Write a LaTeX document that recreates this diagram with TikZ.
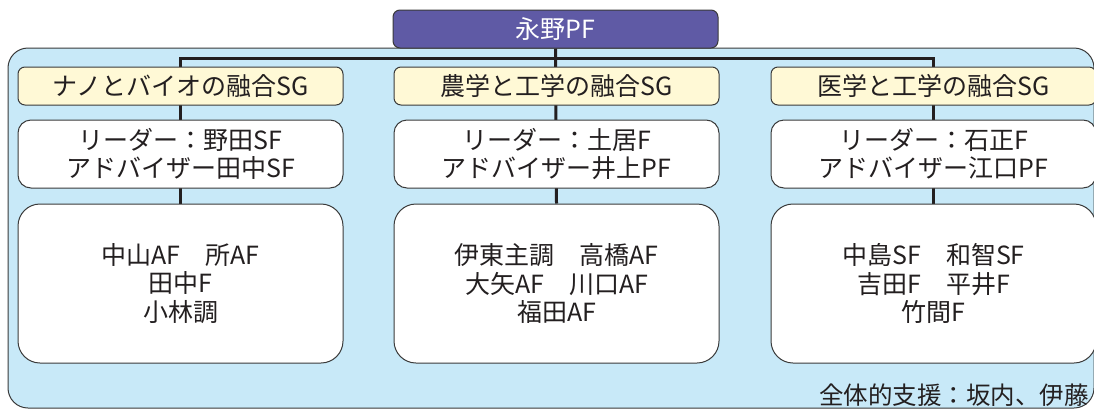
\documentclass[tikz,border=0pt]{standalone}
\usepackage{fontspec}
\setmainfont{Noto Sans CJK JP}
\pgfdeclarelayer{bg}
\pgfdeclarelayer{lines}
\pgfsetlayers{bg,lines,main}
\definecolor{purplefill}{HTML}{5F5AA5}
\definecolor{bluefill}{HTML}{C8E9F8}
\definecolor{yellowfill}{HTML}{FFF9D6}
\definecolor{linec}{HTML}{3A3A3A}
\definecolor{txt}{HTML}{231F20}
\tikzset{
  box/.style={draw=linec, line width=1pt, inner sep=0pt, align=center,
    font=\fontsize{25}{28.5}\selectfont, text=txt, minimum width=325pt},
  topbox/.style={box, fill=purplefill, text=white, minimum height=38pt, rounded corners=7pt},
  sgbox/.style={box, fill=yellowfill, minimum height=38pt, rounded corners=7pt},
  leadbox/.style={box, fill=white, minimum height=68pt, rounded corners=13pt},
  memberbox/.style={box, fill=white, minimum height=159pt, rounded corners=22pt},
  conn/.style={draw=txt, line width=3pt, line join=miter}
}
\begin{document}
\begin{tikzpicture}[x=1pt,y=-1pt]
\useasboundingbox (0,0) rectangle (1094,410);
\begin{pgfonlayer}{bg}
\fill[bluefill, draw=linec, line width=1pt, rounded corners=20pt] (8,48) rectangle (1094,408);
\end{pgfonlayer}

\node[topbox] (top) at (555.5,29) {永野PF};

\node[sgbox] (g1a) at (180.5,86) {ナノとバイオの融合SG};
\node[leadbox] (g1b) at (180.5,154) {リーダー：野田SF\\アドバイザー田中SF};
\node[memberbox] (g1c) at (180.5,283.5) {中山AF　所AF\\田中F\\小林調};

\node[sgbox] (g2a) at (556.5,86) {農学と工学の融合SG};
\node[leadbox] (g2b) at (556.5,154) {リーダー：土居F\\アドバイザー井上PF};
\node[memberbox] (g2c) at (556.5,283.5) {伊東主調　高橋AF\\大矢AF　川口AF\\福田AF};

\node[sgbox] (g3a) at (933.5,86) {医学と工学の融合SG};
\node[leadbox] (g3b) at (933.5,154) {リーダー：石正F\\アドバイザー江口PF};
\node[memberbox] (g3c) at (933.5,283.5) {中島SF　和智SF\\吉田F　平井F\\竹間F};

\node[anchor=east, inner sep=0pt, text=txt, font=\fontsize{24.5}{29}\selectfont] (support) at (1089,395) {全体的支援：坂内、伊藤};

\coordinate (bus) at (556.5,58);
\begin{pgfonlayer}{lines}
\draw[conn] (g1c.north) |- (bus) -| (g3c.north);
\draw[conn] (top.south) -- (g2c.north);
\end{pgfonlayer}
\end{tikzpicture}
\end{document}
